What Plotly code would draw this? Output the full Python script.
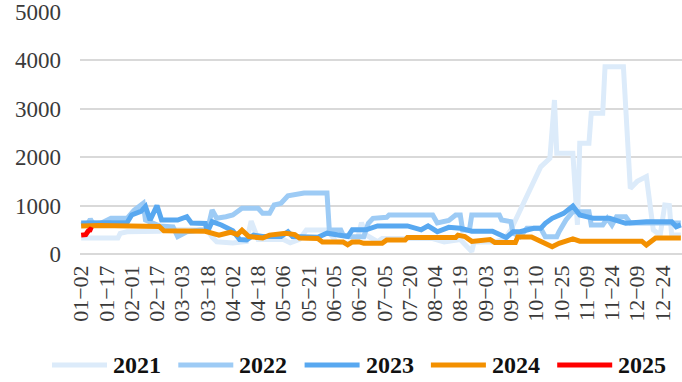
import plotly.graph_objects as go

# x-axis: trading-day index; a label every 11 trading days
tick_labels = ["01−02", "01−17", "02−01", "02−17", "03−03", "03−18", "04−02", "04−18",
               "05−06", "05−21", "06−05", "06−20", "07−05", "07−20", "08−04", "08−19",
               "09−03", "09−19", "10−10", "10−25", "11−09", "11−24", "12−09", "12−24"]
n_days = 262
label_step = 11
y_ticks = [0, 1000, 2000, 3000, 4000, 5000]

# series: (trading-day index, value) break points
idx_2021 = [0, 16, 17, 20, 34, 37, 55, 57, 59, 66, 72, 74, 77, 88, 91, 95, 98, 107, 111, 116,
            120, 122, 124, 129, 131, 153, 158, 165, 168, 170, 171, 180, 184, 187, 200, 204, 206,
            207, 214, 216, 217, 221, 222, 227, 228, 236, 239, 242, 246, 249, 252, 254, 256, 257, 261]
val_2021 = [330, 330, 427, 460, 470, 500, 500, 350, 254, 230, 260, 680, 300, 300, 230, 300, 496,
            496, 254, 220, 254, 650, 392, 254, 320, 320, 250, 300, 150, 50, 250, 250, 300, 496,
            1800, 1977, 3180, 2080, 2080, 600, 2287, 2287, 2906, 2906, 3870, 3870, 1355, 1500,
            1598, 500, 390, 1012, 1000, 390, 390]

idx_2022 = [0, 3, 4, 5, 8, 13, 20, 23, 27, 28, 34, 40, 42, 46, 52, 55, 57, 59, 63, 66, 70, 77,
            79, 82, 84, 87, 90, 94, 97, 107, 108, 113, 114, 117, 123, 125, 127, 133, 134, 153,
            155, 160, 163, 165, 166, 169, 170, 182, 183, 187, 188, 191, 194, 200, 202, 207, 208,
            211, 214, 221, 222, 227, 229, 231, 233, 237, 239, 261]
val_2022 = [600, 634, 720, 640, 620, 737, 737, 900, 1047, 702, 580, 560, 360, 461, 496, 500,
            909, 737, 770, 806, 944, 944, 840, 840, 1012, 1047, 1200, 1220, 1260, 1260, 496, 496,
            392, 358, 358, 634, 737, 760, 806, 806, 640, 694, 806, 806, 496, 496, 806, 806, 702,
            667, 430, 358, 530, 530, 358, 358, 461, 702, 875, 875, 600, 600, 737, 600, 771, 771,
            640, 640]

idx_2023 = [0, 20, 22, 26, 28, 30, 33, 35, 42, 46, 48, 54, 55, 57, 61, 64, 66, 69, 72, 75, 79,
            87, 90, 92, 103, 107, 116, 118, 124, 129, 142, 148, 151, 155, 160, 165, 170, 179, 181,
            185, 188, 191, 194, 197, 200, 202, 205, 210, 214, 217, 223, 230, 237, 246, 257, 259, 261]
val_2023 = [640, 650, 806, 880, 980, 700, 1000, 700, 700, 770, 640, 630, 460, 670, 600, 540,
            480, 300, 290, 390, 360, 360, 460, 360, 345, 430, 360, 500, 500, 580, 580, 500, 580,
            460, 550, 530, 470, 470, 430, 340, 460, 460, 496, 530, 530, 634, 737, 840, 990, 806,
            737, 737, 634, 667, 667, 564, 600]

idx_2024 = [0, 8, 34, 36, 54, 56, 60, 65, 68, 70, 73, 79, 82, 89, 93, 95, 103, 105, 114, 116,
            118, 121, 123, 131, 133, 141, 142, 163, 164, 167, 170, 178, 180, 189, 190, 196, 200,
            205, 208, 214, 217, 244, 246, 250, 261]
val_2024 = [580, 590, 570, 480, 470, 440, 390, 450, 400, 490, 360, 330, 390, 430, 400, 330,
            320, 250, 250, 190, 250, 250, 220, 220, 290, 290, 340, 340, 390, 360, 260, 300, 240,
            240, 350, 350, 255, 150, 220, 310, 265, 265, 185, 330, 330]

idx_2025 = [0, 1, 2, 3, 4, 5]
val_2025 = [390, 390, 400, 470, 510, 490]

years = ["2021", "2022", "2023", "2024", "2025"]
xs = [idx_2021, idx_2022, idx_2023, idx_2024, idx_2025]
ys = [val_2021, val_2022, val_2023, val_2024, val_2025]
colors = ["#DCEBFA", "#9DCBF5", "#58A8F0", "#F39000", "#FF0000"]

fig = go.Figure()
for name, x, y, c in zip(years, xs, ys, colors):
    fig.add_trace(go.Scatter(x=x, y=y, name=name, mode="lines",
                             line=dict(color=c, width=5), showlegend=False))

# legend row below the axis: a swatch line and a year label per series
plot_left, plot_w, plot_h = 80, 602, 243
legend_y_px = 111          # pixels below the x axis
for k, (name, c) in enumerate(zip(years, colors)):
    x0 = 52 + 126.3 * k
    fig.add_shape(type="line", xref="paper", yref="paper",
                  x0=(x0 - plot_left) / plot_w, x1=(x0 + 55 - plot_left) / plot_w,
                  y0=-legend_y_px / plot_h, y1=-legend_y_px / plot_h,
                  line=dict(color=c, width=5))
    fig.add_annotation(xref="paper", yref="paper", x=(x0 + 59 - plot_left) / plot_w,
                       y=-legend_y_px / plot_h, text=f"<b>{name}</b>", showarrow=False,
                       xanchor="left", yanchor="middle",
                       font=dict(family="Liberation Serif", size=24, color="#111111"))

fig.update_layout(
    width=682, height=382,
    margin=dict(l=80, r=0, t=11, b=128),
    paper_bgcolor="white", plot_bgcolor="white",
    font=dict(family="Liberation Serif", color="#3a3a3a"),
    xaxis=dict(range=[-0.5, n_days - 0.5], showgrid=False, zeroline=False, showline=False,
               tickmode="array",
               tickvals=[i * label_step for i in range(len(tick_labels))],
               ticktext=tick_labels, tickangle=-90, ticks="",
               tickfont=dict(size=22, family="Liberation Serif", color="#3a3a3a"),
               ticklabelstandoff=6),
    yaxis=dict(range=[0, 5020], tickmode="array", tickvals=y_ticks,
               showgrid=True, gridcolor="#D9D9D9", gridwidth=1.5,
               zeroline=True, zerolinecolor="#D9D9D9", zerolinewidth=1.5,
               ticks="", ticklabelstandoff=18,
               tickfont=dict(size=23, family="Liberation Serif", color="#3a3a3a")),
)

fig.write_html("out.html")
